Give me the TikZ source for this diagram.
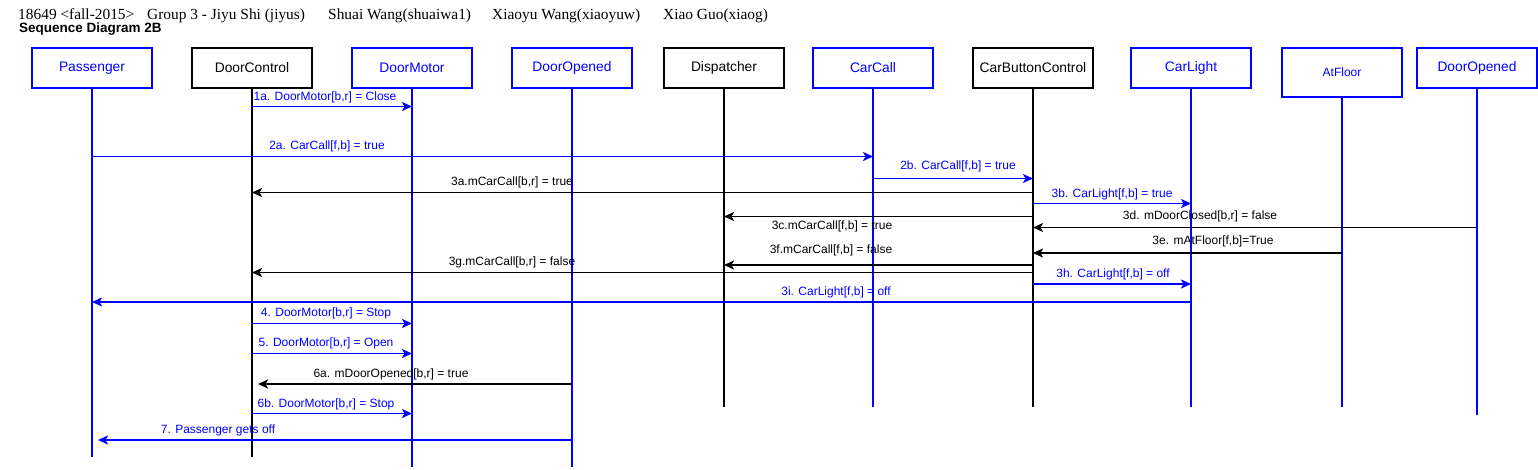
\documentclass[tikz,border=0pt]{standalone}
\usepackage{fontspec}
\setmainfont{Liberation Sans}
\newfontfamily\hdrserif{Liberation Serif}
\usetikzlibrary{arrows.meta}
\definecolor{dblue}{RGB}{0,0,255}
\begin{document}
\begin{tikzpicture}[x=1pt,y=-1pt,
  actor/.style={draw=dblue,text=dblue,line width=1.9pt,minimum width=120pt,minimum height=40pt,inner sep=0pt,font=\fontsize{13.8}{16}\selectfont},
  sysobj/.style={actor,draw=black,text=black},
  life/.style={dblue,line width=1.8pt},
  lifek/.style={black,line width=1.8pt},
  msg/.style={dblue,line width=1.8pt,-{Stealth[length=10pt,width=9pt,inset=2.5pt]}},
  msgk/.style={msg,black},
  lbl/.style={font=\fontsize{12}{14}\selectfont,text=dblue,inner sep=0pt},
  lblk/.style={lbl,text=black},
  hdr/.style={anchor=base west,inner sep=0pt,font=\hdrserif\fontsize{15.4}{17}\selectfont}]
\useasboundingbox (0,0) rectangle (1538,469);
\fill[white] (0,0) rectangle (1538,469);

% header
\node[hdr] (h1) at (18,19) {18649 <fall-2015>};
\node[hdr] (h2) at (147,19) {Group 3 - Jiyu Shi (jiyus)};
\node[hdr] (h3) at (328,19) {Shuai Wang(shuaiwa1)};
\node[hdr] (h4) at (492,19) {Xiaoyu Wang(xiaoyuw)};
\node[hdr] (h5) at (663,19) {Xiao Guo(xiaog)};
\node[anchor=base west,inner sep=0pt,font=\bfseries\fontsize{13.5}{15}\selectfont] (title) at (19,32.5) {Sequence Diagram 2B};

% objects
\node[actor] (pas) at (92,68) {Passenger};
\node[sysobj] (dc) at (252,68) {DoorControl};
\node[actor] (dm) at (412,68) {DoorMotor};
\node[actor] (do) at (572,68) {DoorOpened};
\node[sysobj] (dis) at (724,68) {Dispatcher};
\node[actor] (cc) at (873,68) {CarCall};
\node[sysobj] (cbc) at (1033,68) {CarButtonControl};
\node[actor] (cl) at (1191,68) {CarLight};
\node[actor,minimum height=49pt,font=\fontsize{12}{14}\selectfont] (af) at (1342,72.5) {AtFloor};
\node[actor] (do2) at (1477,68) {DoorOpened};

% lifeline ends
\coordinate (pasE) at (92,457);
\coordinate (dcE) at (252,457);
\coordinate (dmE) at (412,467);
\coordinate (doE) at (572,467);
\coordinate (disE) at (724,407);
\coordinate (ccE) at (873,407);
\coordinate (cbcE) at (1033,407);
\coordinate (clE) at (1191,407);
\coordinate (afE) at (1342,407);
\coordinate (do2E) at (1477,415);

\draw[life] (pas.south) -- (pasE);
\draw[lifek] (dc.south) -- (dcE);
\draw[life] (dm.south) -- (dmE);
\draw[life] (do.south) -- (doE);
\draw[lifek] (dis.south) -- (disE);
\draw[life] (cc.south) -- (ccE);
\draw[lifek] (cbc.south) -- (cbcE);
\draw[life] (cl.south) -- (clE);
\draw[life] (af.south) -- (afE);
\draw[life] (do2.south) -- (do2E);

% messages
\draw[msg] (dc |- 0,106.5) -- (dm |- 0,106.5);
\node[lbl] (l1a) at (325,97) {1a. DoorMotor[b,r] = Close};

\draw[msg] (pas |- 0,156.5) -- (cc |- 0,156.5);
\node[lbl] (l2a) at (327,146.5) {2a. CarCall[f,b] = true};

\draw[msg] (cc |- 0,178.5) -- (cbc |- 0,178.5);
\node[lbl] (l2b) at (958,166.5) {2b. CarCall[f,b] = true};

\draw[msgk] (cbc |- 0,192.5) -- (dc |- 0,192.5);
\node[lblk] (l3a) at (512,182.5) {3a.mCarCall[b,r] = true};

\draw[msg] (cbc |- 0,203.5) -- (cl |- 0,203.5);
\node[lbl] (l3b) at (1112,194.5) {3b. CarLight[f,b] = true};

\draw[msgk] (cbc |- 0,216.5) -- (dis |- 0,216.5);
\node[lblk] (l3c) at (832,226) {3c.mCarCall[f,b] = true};

\draw[msgk] (do2 |- 0,227.5) -- (cbc |- 0,227.5);
\node[lblk] (l3d) at (1200,216.5) {3d. mDoorClosed[b,r] = false};

\draw[msgk] (af |- 0,253) -- (cbc |- 0,253);
\node[lblk] (l3e) at (1213,241.5) {3e. mAtFloor[f,b]=True};

\draw[msgk] (cbc |- 0,265) -- (dis |- 0,265);
\node[lblk] (l3f) at (831,250.5) {3f.mCarCall[f,b] = false};

\draw[msgk] (cbc |- 0,272.5) -- (dc |- 0,272.5);
\node[lblk] (l3g) at (512,262.5) {3g.mCarCall[b,r] = false};

\draw[msg] (cbc |- 0,284) -- (cl |- 0,284);
\node[lbl] (l3h) at (1113,274.5) {3h. CarLight[f,b] = off};

\draw[msg] (cl |- 0,302) -- (pas |- 0,302);
\node[lbl] (l3i) at (836,292) {3i. CarLight[f,b] = off};

\draw[msg] (dc |- 0,323.5) -- (dm |- 0,323.5);
\node[lbl] (l4) at (326,313.5) {4. DoorMotor[b,r] = Stop};

\draw[msg] (dc |- 0,353.5) -- (dm |- 0,353.5);
\node[lbl] (l5) at (326,343.5) {5. DoorMotor[b,r] = Open};

\draw[msgk,shorten >=6pt] (do |- 0,384) -- (dc |- 0,384);
\node[lblk] (l6a) at (391,374) {6a. mDoorOpened[b,r] = true};

\draw[msg] (dc |- 0,413.5) -- (dm |- 0,413.5);
\node[lbl] (l6b) at (326,404) {6b. DoorMotor[b,r] = Stop};

\draw[msg,shorten >=6pt] (do |- 0,440) -- (pas |- 0,440);
\node[lbl] (l7) at (218,430) {7. Passenger gets off};
\end{tikzpicture}
\end{document}
